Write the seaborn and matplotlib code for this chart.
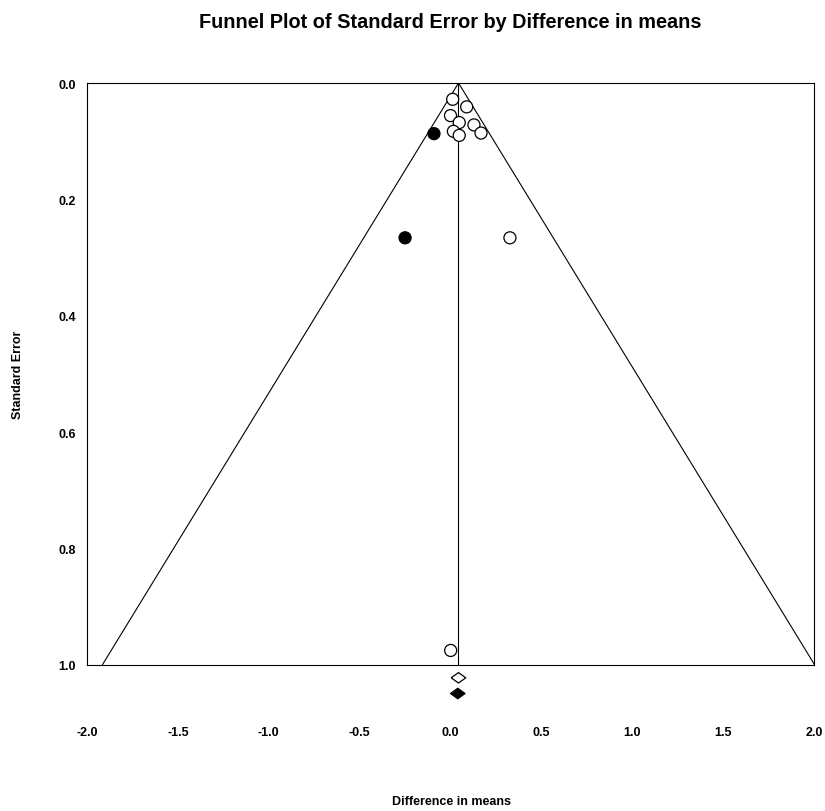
import matplotlib
matplotlib.use("Agg")
import matplotlib.pyplot as plt
import numpy as np
import pandas as pd
import seaborn as sns

# Observed studies: difference in means and standard error
obs_effect = [0.012, 0.089, 0.000, 0.048, 0.129, 0.016, 0.048, 0.168, 0.327, 0.001]
obs_se = [0.028, 0.041, 0.056, 0.068, 0.072, 0.083, 0.090, 0.086, 0.266, 0.975]

# Imputed (trim-and-fill) studies
imp_effect = [-0.091, -0.250]
imp_se = [0.087, 0.266]

# Summary estimates: observed and adjusted
observed_mean = 0.044
adjusted_mean = 0.040
summary_rows = [1.022, 1.049]

x_ticks = [-2.0, -1.5, -1.0, -0.5, 0.0, 0.5, 1.0, 1.5, 2.0]
y_ticks = [0.0, 0.2, 0.4, 0.6, 0.8, 1.0]

sns.set_style("white")
plt.rcParams["font.family"] = ["Liberation Sans", "DejaVu Sans"]
plt.rcParams["text.color"] = "black"

studies = pd.DataFrame({
    "effect": obs_effect + imp_effect,
    "se": obs_se + imp_se,
    "kind": ["observed"] * len(obs_effect) + ["imputed"] * len(imp_effect),
})
summary = pd.DataFrame({
    "effect": [observed_mean, adjusted_mean],
    "se": summary_rows,
    "kind": ["observed", "imputed"],
})

W, H = 825, 812
fig = plt.figure(figsize=(W / 100, H / 100), dpi=100)
ax = fig.add_axes([87 / W, 1 - 666 / H, (814 - 87) / W, (666 - 84) / H])

# Funnel boundaries: mean +/- 1.96 * SE
se_line = np.array([0.0, 1.0])
funnel = pd.DataFrame({
    "x": np.concatenate([observed_mean - 1.96 * se_line, observed_mean + 1.96 * se_line]),
    "y": np.concatenate([se_line, se_line]),
    "side": ["left", "left", "right", "right"],
})
sns.lineplot(data=funnel, x="x", y="y", units="side", estimator=None,
             color="black", linewidth=0.8, sort=False, ax=ax)
ax.plot([observed_mean, observed_mean], [0, 1], color="black", linewidth=0.8)

palette = {"observed": "white", "imputed": "black"}
sns.scatterplot(data=studies, x="effect", y="se", hue="kind", palette=palette,
                edgecolor="black", linewidth=0.9, s=75, legend=False,
                zorder=3, ax=ax)

diamond = [(-1, 0), (0, 0.72), (1, 0), (0, -0.72), (-1, 0)]
sns.scatterplot(data=summary, x="effect", y="se", hue="kind", palette=palette,
                marker=diamond, edgecolor="black", linewidth=0.9, s=110,
                legend=False, clip_on=False, zorder=3, ax=ax)

ax.set_xlim(-2.0, 2.0)
ax.set_ylim(1.0, 0.0)
ax.set_xticks(x_ticks)
ax.set_xticklabels([f"{v:.1f}" for v in x_ticks])
ax.set_yticks(y_ticks)
ax.set_yticklabels([f"{v:.1f}" for v in y_ticks])
ax.tick_params(axis="x", direction="inout", length=3.6, width=0.8, pad=42,
               labelsize=9, colors="black")
ax.tick_params(axis="y", direction="inout", length=3.6, width=0.8, pad=6,
               labelsize=9, colors="black")
for lab in ax.get_xticklabels() + ax.get_yticklabels():
    lab.set_fontweight("bold")
for sp in ax.spines.values():
    sp.set_visible(True)
    sp.set_color("black")
    sp.set_linewidth(0.8)
ax.set_xlabel("")
ax.set_ylabel("")

fig.text(450.5 / W, 1 - 22 / H, "Funnel Plot of Standard Error by Difference in means",
         ha="center", va="center", fontsize=14.3, fontweight="bold", color="black")
fig.text(451 / W, 1 - 802 / H, "Difference in means",
         ha="center", va="center", fontsize=9, fontweight="bold", color="black")
fig.text(18 / W, 1 - 375 / H, "Standard Error", rotation=90,
         ha="center", va="center", fontsize=9, fontweight="bold", color="black")

fig.savefig("out.png", dpi=100, facecolor="white")
